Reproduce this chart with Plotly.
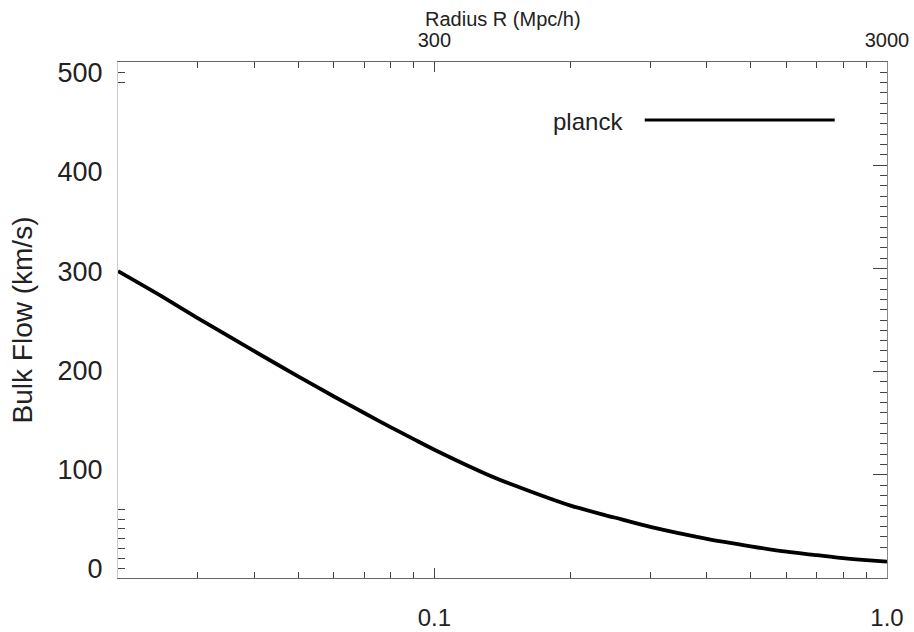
import numpy as np
import plotly.graph_objects as go

# Data
k_vals = [0.02, 0.025, 0.03, 0.04, 0.05, 0.06, 0.07, 0.08, 0.09, 0.1,
          0.13, 0.15, 0.2, 0.25, 0.3, 0.4, 0.5, 0.6, 0.7, 0.8, 0.9, 1.0]
bulk_flow = [300, 274.5, 252.7, 219.3, 193.9, 173.6, 156.9, 142.7, 130.6, 119.9,
             95.5, 84, 63.5, 51.5, 42, 30, 22.5, 17, 13.5, 10.5, 8.5, 7]
series_name = "planck"

bottom_tickvals = [0.1, 1.0]
bottom_ticktext = ["0.1", "1.0"]
top_tickvals = [0.1, 1.0]
top_ticktext = ["300", "3000"]
minor_x = [0.03, 0.04, 0.05, 0.06, 0.07, 0.08, 0.09,
           0.2, 0.3, 0.4, 0.5, 0.6, 0.7, 0.8, 0.9]
y_tickvals = [0, 100, 200, 300, 400, 500]
left_extra_ticks = [0, 10, 20, 30, 40, 50, 60, 490, 500]
right_major = [100, 200, 300, 400]
right_minor = [v for v in range(30, 500, 10) if v % 100 != 0]

FONT = "Liberation Sans, Arial, Helvetica, sans-serif"
TXT = "#222222"
xr = [np.log10(0.02), 0.0]
yr = [-9.5, 511]

fig = go.Figure()
fig.add_trace(go.Scatter(
    x=k_vals, y=bulk_flow, mode="lines", name=series_name,
    line=dict(color="black", width=3.8, shape="spline", smoothing=0.8),
    showlegend=False, xaxis="x", yaxis="y",
))

fig.update_layout(
    width=914, height=632,
    margin=dict(l=118, r=27, t=62, b=54, autoexpand=False),
    paper_bgcolor="white", plot_bgcolor="white",
    font=dict(family=FONT, color=TXT),
    showlegend=False,
    xaxis=dict(
        type="log", range=xr, showgrid=False, zeroline=False, automargin=False,
        showline=True, linecolor="#666666", linewidth=1.2,
        tickmode="array", tickvals=bottom_tickvals, ticktext=bottom_ticktext,
        ticks="inside", ticklen=10, tickcolor="#444444", tickwidth=1,
        ticklabelstandoff=18,
        tickfont=dict(size=24, color=TXT),
        minor=dict(tickmode="array", tickvals=minor_x, ticks="inside",
                   ticklen=6, tickcolor="#444444", showgrid=False),
    ),
    xaxis2=dict(
        type="log", range=xr, overlaying="x", side="top", anchor="y",
        showgrid=False, zeroline=False, automargin=False,
        showline=True, linecolor="#666666", linewidth=1.2,
        tickmode="array", tickvals=top_tickvals, ticktext=top_ticktext,
        ticks="inside", ticklen=10, tickcolor="#444444", tickwidth=1,
        ticklabelstandoff=6,
        tickfont=dict(size=20, color=TXT),
        minor=dict(tickmode="array", tickvals=minor_x, ticks="inside",
                   ticklen=6, tickcolor="#444444", showgrid=False),
    ),
    yaxis=dict(
        range=yr, showgrid=False, zeroline=False, automargin=False,
        showline=True, linecolor="#cccccc", linewidth=1,
        tickmode="array", tickvals=y_tickvals,
        ticks="", ticklabelstandoff=9,
        tickfont=dict(size=27, color=TXT),
        title=dict(text="Bulk Flow (km/s)", font=dict(size=28, color=TXT),
                   standoff=16),
    ),
    yaxis3=dict(
        range=yr, overlaying="y", side="left", anchor="x", automargin=False,
        showgrid=False, zeroline=False, showline=False,
        tickmode="array", tickvals=left_extra_ticks,
        ticks="inside", ticklen=7, tickcolor="#444444", tickwidth=1,
        showticklabels=False,
    ),
    yaxis2=dict(
        range=[0, 500], overlaying="y", side="right", anchor="x", automargin=False,
        showgrid=False, zeroline=False,
        showline=True, linecolor="#888888", linewidth=1.2,
        tickmode="array", tickvals=right_major,
        ticks="inside", ticklen=14, tickcolor="#444444", tickwidth=1,
        showticklabels=False,
        minor=dict(tickmode="array", tickvals=right_minor, ticks="inside",
                   ticklen=7, tickcolor="#444444", showgrid=False),
    ),
)

# invisible anchor traces to activate the top x-axis and extra y-axes
fig.add_trace(go.Scatter(x=[k_vals[0]], y=[bulk_flow[0]], xaxis="x2", yaxis="y2",
                         mode="markers", marker=dict(opacity=0), hoverinfo="skip",
                         showlegend=False))
fig.add_trace(go.Scatter(x=[k_vals[0]], y=[bulk_flow[0]], xaxis="x", yaxis="y3",
                         mode="markers", marker=dict(opacity=0), hoverinfo="skip",
                         showlegend=False))

# top axis title
fig.add_annotation(xref="paper", yref="paper", x=0.5, y=1.083,
                   text="Radius R (Mpc/h)", showarrow=False, xanchor="center",
                   yanchor="middle", font=dict(size=20, color=TXT))

# custom legend: label + long line sample
fig.add_annotation(xref="paper", yref="paper", x=0.659, y=0.884,
                   text=series_name, showarrow=False, xanchor="right",
                   yanchor="middle", font=dict(size=24, color=TXT))
fig.add_shape(type="line", xref="paper", yref="paper",
              x0=0.685, x1=0.932, y0=0.8876, y1=0.8876,
              line=dict(color="black", width=3))

fig.write_html("out.html")
